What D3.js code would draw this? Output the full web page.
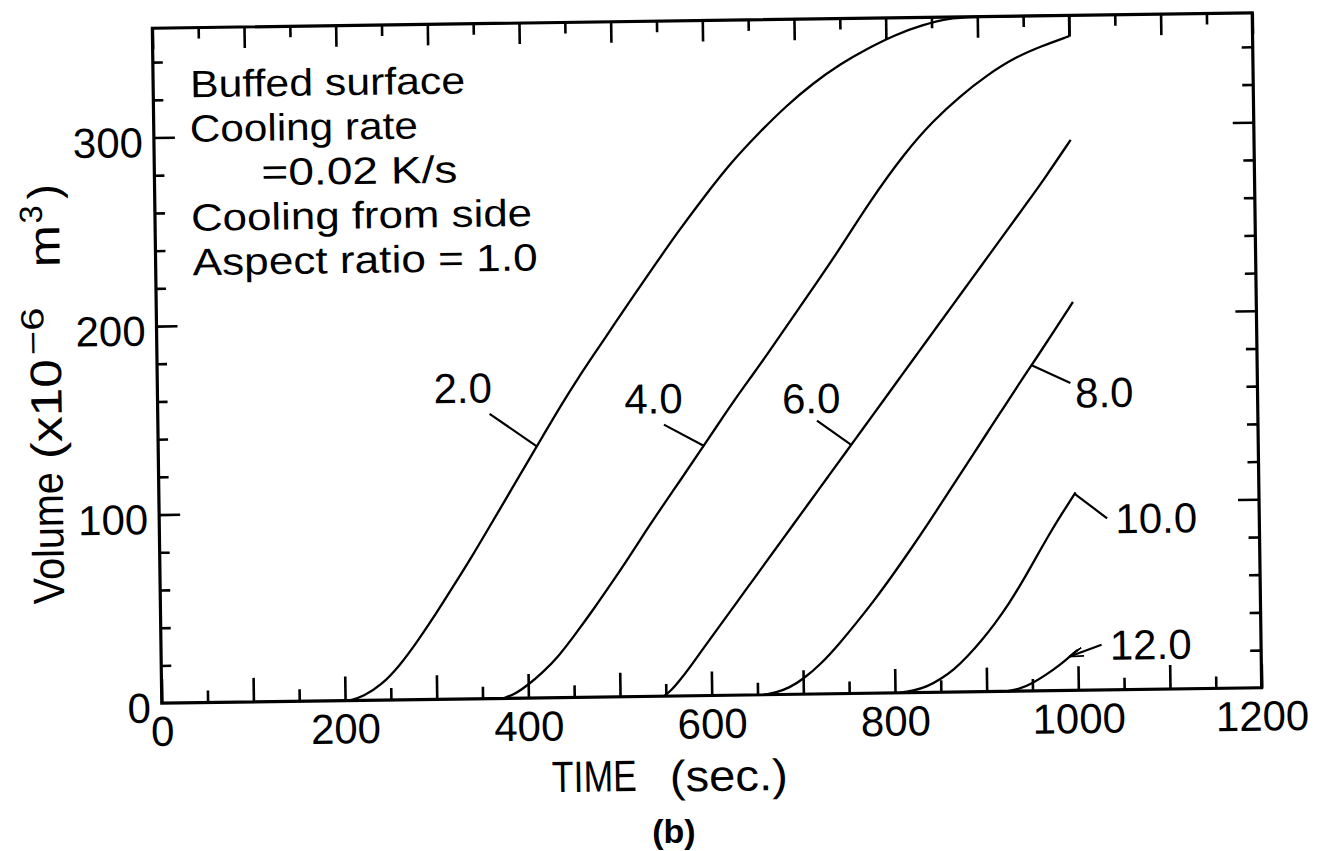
<!DOCTYPE html>
<html lang="en">
<head>
<meta charset="UTF-8">
<title>Volume vs time</title>
<script src="https://d3js.org/d3.v7.min.js"></script>
<style>
  body { margin: 0; background: #fff; }
  text { font-family: "Liberation Sans", Arial, sans-serif; fill: #000; }
</style>
</head>
<body>
<svg></svg>
<script>
const width = 1320, height = 851;

// curve values: time (s) and volume (x10^-6 m^3)
const time2  = [205, 220, 240, 260, 280, 300, 320, 340, 360, 380, 400, 420, 440, 460, 480, 500, 520, 545, 570, 600, 630, 660, 690, 720, 750, 780, 810, 840, 870, 900, 1000];
const vol2   = [0, 2, 8, 18, 31, 45, 60, 75, 91, 107, 123, 139, 155, 170, 184, 198, 212, 229, 246, 265, 283, 298, 312, 324, 334, 342, 349, 354, 357.5, 358, 358];
const time4  = [372, 385, 400, 415, 434, 453, 473, 492, 512, 531, 551, 570, 590, 610, 630, 650, 665, 700, 740, 780, 820, 850, 880, 910, 940, 970, 1000];
const vol4   = [0, 2, 7, 13, 22, 34, 47, 60, 74, 88, 102, 115, 129, 143, 157, 170, 180, 204, 231, 261, 287, 303, 316, 327, 336, 342, 347];
const time6  = [548, 556, 565, 575, 590, 610, 630, 650, 670, 690, 710, 730, 750, 770, 790, 810, 830, 850, 870, 890, 910, 930, 950, 970, 1000];
const vol6   = [0, 3, 8, 14, 24, 37, 50, 63, 76, 89, 102, 115, 128, 141, 154, 167, 180, 193, 206, 219, 232, 245, 258, 271, 292];
const time8  = [658, 670, 685, 700, 720, 740, 760, 780, 800, 820, 840, 860, 880, 900, 920, 940, 960, 980, 1000];
const vol8   = [0, 1, 3.5, 8, 16, 26.5, 38, 50, 63, 76.5, 90.5, 105, 119.5, 134, 148.5, 163, 177, 191.5, 206];
const time10 = [805, 820, 835, 850, 865, 880, 895, 910, 925, 940, 955, 970, 985, 1000];
const vol10  = [0, 1, 3, 7, 12, 19, 27, 36, 46, 57.5, 70, 82.5, 94, 105];
const time12 = [922, 935, 950, 965, 980, 991, 1000];
const vol12  = [0, 1, 4, 8.5, 13.5, 18, 21.5];

const rateLabels = ["2.0", "4.0", "6.0", "8.0", "10.0", "12.0"];
const times = [time2, time4, time6, time8, time10, time12];
const vols = [vol2, vol4, vol6, vol8, vol10, vol12];

// the 4.0 curve is closed off by a vertical stroke at the end of the run
const tailTime = [1000, 1000];
const tailVol = [347, 358];

const xMinor = d3.range(50, 1200, 100);
const xMajor = d3.range(0, 1201, 100);
const xLabels = [0, 200, 400, 600, 800, 1000, 1200];
const yMinor = d3.range(20, 358, 20).filter(d => d % 100 !== 0);
const yMajor = [100, 200, 300];
const yLabels = [0, 100, 200, 300];

const infoLines = ["Buffed surface", "Cooling rate", "=0.02 K/s", "Cooling from side", "Aspect ratio = 1.0"];

// label placement (data coords of text, of the leader end, time where leader meets curve)
const labelPos = [[333, 157], [541, 150], [713, 149], [1001, 150], [1043, 83], [1035, 16]];
const labelAnchor = ["middle", "middle", "middle", "start", "start", "start"];
const leaderEnd = [[362, 151], [552, 144], [719, 145], [996, 163], [1034, 91], [1026, 24]];
const leaderTime = [413, 595, 756, 954, 999, 991];

const svg = d3.select("svg").attr("width", width).attr("height", height);
svg.append("rect").attr("width", width).attr("height", height).attr("fill", "#fff");

// the scanned figure is slightly tilted
const g = svg.append("g").attr("transform", "rotate(-0.8,707,358)");

const x = d3.scaleLinear().domain([0, 1200]).range([157, 1257]);
const y = d3.scaleLinear().domain([0, 358]).range([695.5, 20.5]);

function tickAxis(axis, values, size) {
  return axis.tickValues(values).tickSize(-size).tickSizeOuter(0).tickFormat("");
}
const axes = g.append("g").attr("class", "ticks");
const axBottom = axes.append("g").attr("transform", `translate(0,${y(0)})`);
axBottom.append("g").call(tickAxis(d3.axisBottom(x), xMajor, 24));
axBottom.append("g").call(tickAxis(d3.axisBottom(x), xMinor, 12));
const axTop = axes.append("g").attr("transform", `translate(0,${y(358)})`);
axTop.append("g").call(tickAxis(d3.axisTop(x), xMajor, 21));
axTop.append("g").call(tickAxis(d3.axisTop(x), xMinor, 11));
const axLeft = axes.append("g").attr("transform", `translate(${x(0)},0)`);
axLeft.append("g").call(tickAxis(d3.axisLeft(y), yMajor, 21));
axLeft.append("g").call(tickAxis(d3.axisLeft(y), yMinor, 10));
const axRight = axes.append("g").attr("transform", `translate(${x(1200)},0)`);
axRight.append("g").call(tickAxis(d3.axisRight(y), yMajor, 21));
axRight.append("g").call(tickAxis(d3.axisRight(y), yMinor, 11));
axes.selectAll(".domain").remove();
axes.selectAll(".tick line").attr("stroke", "#000").attr("stroke-width", 2.6);

g.append("rect")
  .attr("x", x(0)).attr("y", y(358))
  .attr("width", x(1200) - x(0)).attr("height", y(0) - y(358))
  .attr("fill", "none").attr("stroke", "#000").attr("stroke-width", 3.2);

// tick labels
const xl = g.append("g").attr("transform", `translate(0,${y(0)})`)
  .call(d3.axisBottom(x).tickValues(xLabels).tickFormat(d3.format("d")).tickSize(0).tickPadding(13));
const yl = g.append("g").attr("transform", `translate(${x(0)},0)`)
  .call(d3.axisLeft(y).tickValues(yLabels).tickFormat(d3.format("d")).tickSize(0).tickPadding(11));
[xl, yl].forEach(a => {
  a.select(".domain").remove();
  a.selectAll("text").attr("font-size", 42).attr("font-family", "Liberation Sans, Arial, sans-serif").attr("fill", "#000");
});
yl.selectAll("text").attr("dy", "0.45em");

// curves
const line = d3.line().x(d => x(d[0])).y(d => y(d[1])).curve(d3.curveBasis);
const curves = times.map((ts, i) => ts.map((t, j) => [t, vols[i][j]]));
g.append("g").selectAll("path")
  .data(curves)
  .join("path")
  .attr("d", line)
  .attr("fill", "none").attr("stroke", "#000").attr("stroke-width", 2.3);
g.append("path")
  .attr("d", d3.line().x(d => x(d[0])).y(d => y(d[1]))(tailTime.map((t, j) => [t, tailVol[j]])))
  .attr("fill", "none").attr("stroke", "#000").attr("stroke-width", 2.3);

// curve labels with leaders
svg.append("defs").append("marker")
  .attr("id", "arrow").attr("viewBox", "0 0 14 10").attr("refX", 14).attr("refY", 5)
  .attr("markerWidth", 14).attr("markerHeight", 10).attr("markerUnits", "userSpaceOnUse")
  .attr("orient", "auto")
  .append("path").attr("d", "M0,0.5 L14,5 L0,9.5").attr("fill", "none").attr("stroke", "#000").attr("stroke-width", 1.8);

function valueAt(ts, vs, t) {
  const i = Math.max(1, d3.bisectLeft(ts, t));
  const k = (t - ts[i - 1]) / (ts[i] - ts[i - 1]);
  return vs[i - 1] + k * (vs[i] - vs[i - 1]);
}
const labels = g.append("g");
rateLabels.forEach((lab, i) => {
  const onCurve = [leaderTime[i], valueAt(times[i], vols[i], leaderTime[i])];
  labels.append("line")
    .attr("x1", x(leaderEnd[i][0])).attr("y1", y(leaderEnd[i][1]))
    .attr("x2", x(onCurve[0])).attr("y2", y(onCurve[1]))
    .attr("stroke", "#000").attr("stroke-width", 2.2)
    .attr("marker-end", lab === "12.0" ? "url(#arrow)" : null);
  labels.append("text")
    .attr("x", x(labelPos[i][0])).attr("y", y(labelPos[i][1]))
    .attr("text-anchor", labelAnchor[i])
    .attr("font-size", 42)
    .text(lab);
});

// condition notes
const noteWidths = [275, 228, 196, 341, 345];
const noteX = [194, 193, 264, 193, 194];
g.append("g").selectAll("text")
  .data(infoLines)
  .join("text")
  .attr("x", (d, i) => noteX[i])
  .attr("y", (d, i) => 90 + i * 44.5)
  .attr("font-size", 38)
  .attr("textLength", (d, i) => noteWidths[i])
  .attr("lengthAdjust", "spacingAndGlyphs")
  .text(d => d);

// axis titles
g.append("text").attr("x", 546).attr("y", 790).attr("font-size", 44)
  .attr("textLength", 85).attr("lengthAdjust", "spacingAndGlyphs").text("TIME");
g.append("text").attr("x", 664).attr("y", 791).attr("font-size", 44)
  .attr("textLength", 118).attr("lengthAdjust", "spacingAndGlyphs").text("(sec.)");

// y title laid out piece by piece along the rotated baseline
const titleParts = [
  { s: "Volume", at: 595, len: 132, size: 44, rise: 0 },
  { s: "(x10", at: 450, len: 100, size: 44, rise: 0 },
  { s: "\u22126", at: 346, len: 48, size: 32, rise: 17 },
  { s: "m", at: 258, len: 42, size: 44, rise: 0 },
  { s: "3", at: 214, len: 18, size: 32, rise: 17 },
  { s: ")", at: 190, len: 15, size: 44, rise: 0 }
];
const yTitle = g.append("g");
titleParts.forEach(p => {
  yTitle.append("text")
    .attr("transform", `translate(${61 - p.rise},${p.at}) rotate(-90)`)
    .attr("font-size", p.size)
    .attr("textLength", p.len)
    .attr("lengthAdjust", "spacingAndGlyphs")
    .text(p.s);
});

svg.append("text")
  .attr("x", 674).attr("y", 843)
  .attr("text-anchor", "middle")
  .attr("font-family", "Liberation Serif, Times New Roman, serif")
  .attr("font-weight", "bold")
  .attr("font-size", 34)
  .text("(b)");
</script>
</body>
</html>
